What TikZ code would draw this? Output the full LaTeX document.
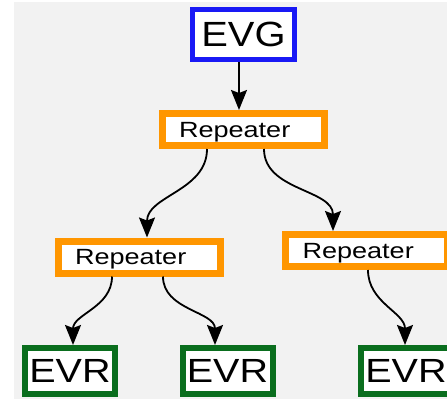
\documentclass[tikz,border=0pt]{standalone}
\usepackage{fontspec}
\setmainfont{Liberation Sans}
\usepackage{graphicx}
\usepackage{xcolor}
\usetikzlibrary{arrows.meta}

\definecolor{bggrey}{HTML}{F2F2F2}
\definecolor{evgblue}{RGB}{25,25,245}
\definecolor{reporange}{RGB}{255,150,0}
\definecolor{evrgreen}{RGB}{10,110,30}

\tikzset{
  evgbox/.style={draw=evgblue,fill=white,line width=5pt,minimum width=102pt,minimum height=50pt,inner sep=0pt,font=\fontsize{35}{40}\selectfont},
  repbox/.style={draw=reporange,fill=white,line width=7pt,text width=128pt,align=left,inner xsep=17pt,inner ysep=0pt,minimum height=32pt,text height=15.5pt,text depth=0pt,font=\fontsize{22}{24}\selectfont},
  evrbox/.style={draw=evrgreen,fill=white,line width=6pt,minimum width=90pt,minimum height=46pt,inner sep=0pt,font=\fontsize{33.5}{38}\selectfont},
  arr/.style={line width=1.8pt,-{Stealth[length=20pt,width=16pt,inset=3pt]}}
}

\begin{document}
\begin{tikzpicture}[x=1pt,y=1pt]
\useasboundingbox (0,0) rectangle (447,-404);
\fill[white] (0,0) rectangle (447,-404);
\fill[bggrey] (14,-2) rectangle (447,-399);

\node[evgbox] (evg) at (243.5,-34.5) {\scalebox{1.14}[1]{EVG}};

\node[repbox] (rep1) at (243,-129.5) {\scalebox{1.23}[1]{Repeater}};
\node[repbox] (repl) at (139,-257) {\scalebox{1.23}[1]{Repeater}};
\node[repbox] (repr) at (366.5,-250.5) {\scalebox{1.23}[1]{Repeater}};

\node[evrbox] (evr1) at (70,-371) {\scalebox{1.18}[1]{EVR}};
\node[evrbox] (evr2) at (227.5,-371) {\scalebox{1.18}[1]{EVR}};
\node[evrbox] (evr3) at (406,-371) {\scalebox{1.18}[1]{EVR}};

\draw[arr] ([xshift=-4.5pt]evg.south) -- ([xshift=-4pt]rep1.north);
\draw[arr] ([xshift=-36pt]rep1.south) to[out=-90,in=90] ([xshift=8pt]repl.north);
\draw[arr] ([xshift=21pt]rep1.south) to[out=-90,in=90] ([xshift=-33.5pt]repr.north);

\draw[arr] ([xshift=-27pt]repl.south) to[out=-90,in=90] ([xshift=3pt]evr1.north);
\draw[arr] ([xshift=24pt]repl.south) to[out=-90,in=90] ([xshift=-12.5pt]evr2.north);
\draw[arr] ([xshift=1.5pt]repr.south) to[out=-90,in=90] ([xshift=-1pt]evr3.north);
\end{tikzpicture}
\end{document}
